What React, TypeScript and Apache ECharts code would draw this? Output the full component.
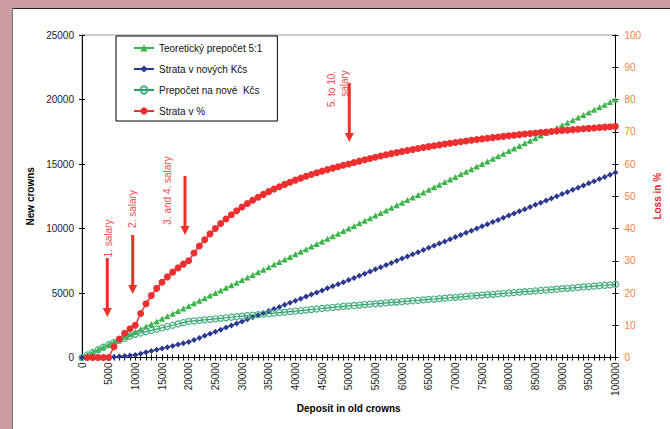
import React, { useEffect, useRef } from "react";
import * as echarts from "echarts";

// Deposit in old crowns, in thousands
const depositK = [
  0, 1, 2, 3, 4, 5, 6, 7, 8, 9, 10, 11, 12, 13, 14, 15, 16, 17, 18, 19, 20,
  21, 22, 23, 24, 25, 26, 27, 28, 29, 30, 31, 32, 33, 34, 35, 36, 37, 38, 39, 40,
  41, 42, 43, 44, 45, 46, 47, 48, 49, 50, 51, 52, 53, 54, 55, 56, 57, 58, 59, 60,
  61, 62, 63, 64, 65, 66, 67, 68, 69, 70, 71, 72, 73, 74, 75, 76, 77, 78, 79, 80,
  81, 82, 83, 84, 85, 86, 87, 88, 89, 90, 91, 92, 93, 94, 95, 96, 97, 98, 99, 100,
];

// Teoretický prepočet 5:1
const theoretical = [
  0, 200, 400, 600, 800, 1000, 1200, 1400, 1600, 1800, 2000, 2200, 2400, 2600, 2800, 3000, 3200, 3400, 3600, 3800, 4000,
  4200, 4400, 4600, 4800, 5000, 5200, 5400, 5600, 5800, 6000, 6200, 6400, 6600, 6800, 7000, 7200, 7400, 7600, 7800, 8000,
  8200, 8400, 8600, 8800, 9000, 9200, 9400, 9600, 9800, 10000, 10200, 10400, 10600, 10800, 11000, 11200, 11400, 11600, 11800, 12000,
  12200, 12400, 12600, 12800, 13000, 13200, 13400, 13600, 13800, 14000, 14200, 14400, 14600, 14800, 15000, 15200, 15400, 15600, 15800, 16000,
  16200, 16400, 16600, 16800, 17000, 17200, 17400, 17600, 17800, 18000, 18200, 18400, 18600, 18800, 19000, 19200, 19400, 19600, 19800, 20000,
];

// Strata v nových Kčs
const lossNew = [
  0, 0, 0, 0, 0, 0, 40, 80, 120, 160, 200, 300, 400, 500, 600, 700, 800, 900, 1000, 1100, 1200,
  1360, 1520, 1680, 1840, 2000, 2160, 2320, 2480, 2640, 2800, 2960, 3120, 3280, 3440, 3600, 3760, 3920, 4080, 4240, 4400,
  4560, 4720, 4880, 5040, 5200, 5360, 5520, 5680, 5840, 6000, 6167, 6333, 6500, 6667, 6833, 7000, 7167, 7333, 7500, 7667,
  7833, 8000, 8167, 8333, 8500, 8667, 8833, 9000, 9167, 9333, 9500, 9667, 9833, 10000, 10167, 10333, 10500, 10667, 10833, 11000,
  11167, 11333, 11500, 11667, 11833, 12000, 12167, 12333, 12500, 12667, 12833, 13000, 13167, 13333, 13500, 13667, 13833, 14000, 14167, 14333,
];

// Prepočet na nové Kčs
const converted = [
  0, 200, 400, 600, 800, 1000, 1160, 1320, 1480, 1640, 1800, 1900, 2000, 2100, 2200, 2300, 2400, 2500, 2600, 2700, 2800,
  2840, 2880, 2920, 2960, 3000, 3040, 3080, 3120, 3160, 3200, 3240, 3280, 3320, 3360, 3400, 3440, 3480, 3520, 3560, 3600,
  3640, 3680, 3720, 3760, 3800, 3840, 3880, 3920, 3960, 4000, 4033, 4067, 4100, 4133, 4167, 4200, 4233, 4267, 4300, 4333,
  4367, 4400, 4433, 4467, 4500, 4533, 4567, 4600, 4633, 4667, 4700, 4733, 4767, 4800, 4833, 4867, 4900, 4933, 4967, 5000,
  5033, 5067, 5100, 5133, 5167, 5200, 5233, 5267, 5300, 5333, 5367, 5400, 5433, 5467, 5500, 5533, 5567, 5600, 5633, 5667,
];

// Strata v % (from 1000 old crowns)
const lossPct = [
  0, 0, 0, 0, 0, 3.33, 5.71, 7.5, 8.89, 10,
  13.64, 16.67, 19.23, 21.43, 23.33, 25, 26.47, 27.78, 28.95, 30,
  32.38, 34.55, 36.52, 38.33, 40, 41.54, 42.96, 44.29, 45.52, 46.67,
  47.74, 48.75, 49.7, 50.59, 51.43, 52.22, 52.97, 53.68, 54.36, 55,
  55.61, 56.19, 56.74, 57.27, 57.78, 58.26, 58.72, 59.17, 59.59, 60,
  60.46, 60.9, 61.32, 61.73, 62.12, 62.5, 62.87, 63.22, 63.56, 63.89,
  64.21, 64.52, 64.81, 65.1, 65.38, 65.66, 65.92, 66.18, 66.43, 66.67,
  66.9, 67.13, 67.35, 67.57, 67.78, 67.98, 68.18, 68.38, 68.57, 68.75,
  68.93, 69.11, 69.28, 69.44, 69.61, 69.77, 69.92, 70.08, 70.22, 70.37,
  70.51, 70.65, 70.79, 70.92, 71.05, 71.18, 71.31, 71.43, 71.55, 71.67,
];

const seriesNames = ["Teoretický prepočet 5:1", "Strata v nových Kčs", "Prepočet na nové  Kčs", "Strata v %"];

const FONT = "'Liberation Sans', Arial, sans-serif";
const RED = "#ee3124";
const plain = (v: number) => String(v);

function zip(xs: number[], ys: number[]) {
  return ys.map((v, i) => [xs[i] * 1000, v]);
}

function arrow(x: number, top: number, tip: number) {
  return [
    { type: "line", shape: { x1: x, y1: top, x2: x, y2: tip - 8 }, style: { stroke: RED, lineWidth: 3 }, z: 10 },
    {
      type: "polygon",
      shape: { points: [[x - 4.5, tip - 9], [x + 4.5, tip - 9], [x, tip]] },
      style: { fill: RED },
      z: 10,
    },
  ];
}

function vtext(text: string, x: number, y: number) {
  return {
    type: "text",
    x,
    y,
    rotation: Math.PI / 2,
    z: 10,
    style: { text, fill: "#f04a4a", font: `10px ${FONT}`, align: "center", verticalAlign: "middle" },
  };
}

export default function App() {
  const ref = useRef<HTMLDivElement>(null);
  useEffect(() => {
    document.body.style.margin = "0";
    const chart = echarts.init(ref.current!, undefined, { renderer: "svg" });
    const xBase = {
      type: "value",
      min: 0,
      max: 100000,
      interval: 5000,
      position: "bottom",
      splitLine: { show: false },
    };
    const option: any = {
      animation: false,
      backgroundColor: "#c99da2",
      textStyle: { fontFamily: FONT },
      grid: {
        left: 82,
        right: 48,
        top: 35,
        bottom: 71.5,
        show: true,
        borderColor: "#9a9a9a",
        borderWidth: 1,
        backgroundColor: "transparent",
      },
      legend: {
        orient: "vertical",
        left: 116,
        top: 36,
        padding: [7, 15, 5, 17],
        itemGap: 11,
        itemWidth: 20,
        itemHeight: 9,
        backgroundColor: "#fff",
        borderColor: "#000",
        borderWidth: 1,
        textStyle: { fontSize: 10, color: "#111", fontFamily: FONT },
        data: seriesNames,
      },
      xAxis: [
        {
          ...xBase,
          axisLine: { show: true, onZero: false, lineStyle: { color: "#000", width: 1 } },
          axisTick: { show: true, length: 3, lineStyle: { color: "#000" } },
          minorTick: { show: true, splitNumber: 5, length: 3, lineStyle: { color: "#000" } },
          axisLabel: { rotate: 90, fontSize: 10, color: "#222", margin: 5, fontFamily: FONT, formatter: plain },
          name: "Deposit in old crowns",
          nameLocation: "middle",
          nameGap: 38,
          nameTextStyle: { fontWeight: "bold", fontSize: 10, color: "#000", fontFamily: FONT },
        },
        {
          ...xBase,
          axisLine: { show: false, onZero: false },
          axisTick: { show: true, inside: true, length: 3, lineStyle: { color: "#000" } },
          minorTick: { show: true, splitNumber: 5, length: 3, lineStyle: { color: "#000" } },
          axisLabel: { show: false },
        },
      ],
      yAxis: [
        {
          type: "value",
          min: 0,
          max: 25000,
          interval: 5000,
          position: "left",
          splitLine: { show: false },
          axisLine: { show: true, onZero: false, lineStyle: { color: "#000" } },
          axisTick: { show: true, length: 3, lineStyle: { color: "#000" } },
          axisLabel: { fontSize: 10, color: "#222", margin: 8, fontFamily: FONT, formatter: plain },
          name: "New crowns",
          nameLocation: "middle",
          nameGap: 42,
          nameTextStyle: { fontWeight: "bold", fontSize: 10, color: "#000", fontFamily: FONT },
        },
        {
          type: "value",
          min: 0,
          max: 25000,
          interval: 5000,
          position: "left",
          splitLine: { show: false },
          axisLine: { show: false, onZero: false },
          axisTick: { show: true, inside: true, length: 3, lineStyle: { color: "#000" } },
          axisLabel: { show: false },
        },
        {
          type: "value",
          min: 0,
          max: 100,
          interval: 10,
          position: "right",
          splitLine: { show: false },
          axisLine: { show: true, onZero: false, lineStyle: { color: "#000" } },
          axisTick: { show: true, length: 3, lineStyle: { color: "#000" } },
          axisLabel: { fontSize: 10, color: "#f5803e", margin: 9, fontFamily: FONT, formatter: plain },
          name: "Loss in %",
          nameLocation: "middle",
          nameGap: 30,
          nameTextStyle: { fontWeight: "bold", fontSize: 10, color: "#e8242c", fontFamily: FONT },
        },
        {
          type: "value",
          min: 0,
          max: 100,
          interval: 10,
          position: "right",
          splitLine: { show: false },
          axisLine: { show: false, onZero: false },
          axisTick: { show: true, inside: true, length: 3, lineStyle: { color: "#000" } },
          axisLabel: { show: false },
        },
      ],
      series: [
        {
          name: seriesNames[0],
          type: "line",
          xAxisIndex: 0,
          yAxisIndex: 0,
          data: zip(depositK, theoretical),
          symbol: "triangle",
          symbolSize: 6,
          itemStyle: { color: "#3cb44b" },
          lineStyle: { color: "#3cb44b", width: 1 },
        },
        {
          name: seriesNames[1],
          type: "line",
          xAxisIndex: 0,
          yAxisIndex: 0,
          data: zip(depositK, lossNew),
          symbol: "diamond",
          symbolSize: 6,
          itemStyle: { color: "#2b3a8e" },
          lineStyle: { color: "#2b3a8e", width: 1 },
        },
        {
          name: seriesNames[2],
          type: "line",
          xAxisIndex: 0,
          yAxisIndex: 0,
          data: zip(depositK, converted),
          symbol: "circle",
          symbolSize: 6,
          itemStyle: { color: "rgba(255,255,255,0)", borderColor: "#46b07f", borderWidth: 1.2 },
          lineStyle: { color: "#2a9a68", width: 1.2 },
        },
        {
          name: seriesNames[3],
          type: "line",
          xAxisIndex: 0,
          yAxisIndex: 2,
          data: zip(depositK.slice(1), lossPct),
          symbol: "circle",
          symbolSize: 7,
          itemStyle: { color: "#ee2f2f" },
          lineStyle: { color: "#ee2f2f", width: 1.5 },
        },
      ],
      graphic: [
        { type: "rect", shape: { x: 12, y: 8, width: 660, height: 425 }, style: { fill: "#fff" }, z: -5 },
        { type: "line", shape: { x1: 12, y1: 8.5, x2: 670, y2: 8.5 }, style: { stroke: "#222", lineWidth: 1 }, z: -4 },
        { type: "line", shape: { x1: 12.5, y1: 8, x2: 12.5, y2: 429 }, style: { stroke: "#777", lineWidth: 1 }, z: -4 },
        vtext("1. salary", 108.5, 238.5),
        vtext("2. salary", 132.5, 209),
        vtext("3. and 4. salary", 167, 190.5),
        vtext("5. to 10.", 331.5, 89),
        vtext("salary", 344, 83.5),
        ...arrow(107.3, 258, 317),
        ...arrow(132.7, 235, 294),
        ...arrow(185, 176, 235),
        ...arrow(349.3, 83, 142),
      ],
    };
    chart.setOption(option);
    return () => chart.dispose();
  }, []);
  return <div ref={ref} style={{ width: 670, height: 429 }} />;
}
